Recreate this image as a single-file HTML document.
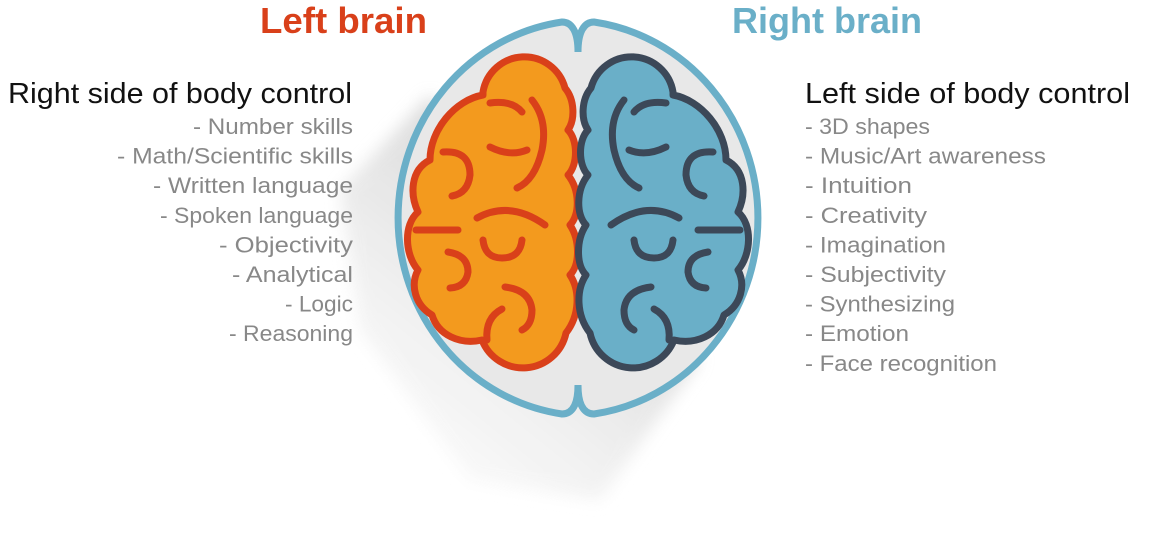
<!DOCTYPE html>
<html><head><meta charset="utf-8"><style>
html,body{margin:0;padding:0;background:#fff;}
svg{display:block;}
text{font-family:"Liberation Sans",sans-serif;}
</style></head><body>
<svg width="1163" height="533" viewBox="0 0 1163 533" xmlns="http://www.w3.org/2000/svg">
<defs>
<linearGradient id="sh" x1="0.6" y1="0.3" x2="0.1" y2="1">
<stop offset="0" stop-color="#d8d8d8"/>
<stop offset="0.5" stop-color="#efefef"/>
<stop offset="1" stop-color="#ffffff"/>
</linearGradient>
<filter id="bl" x="-20%" y="-20%" width="140%" height="140%"><feGaussianBlur stdDeviation="8"/></filter>
<g id="hemi">
<path d="M483,92 A42,42 0 0 1 565,88 C575,100 575,120 568,130 C578,140 578,165 568,175 C580,190 580,215 570,225 C580,240 580,265 570,275 C580,290 580,315 566,333 A44,44 0 0 1 482,340 C460,345 438,335 432,315 C415,305 410,285 418,270 C405,255 403,225 418,212 C410,195 410,170 430,160 C430,130 455,100 483,95 Z"/>
<g fill="none">
<path d="M490,103 Q512,100 522,112"/>
<path d="M443,152 Q470,150 470,175 Q468,193 452,196"/>
<path d="M490,147 Q510,157 527,150"/>
<path d="M532,100 Q548,120 542,150 Q535,180 517,188"/>
<path d="M477,218 Q510,200 545,225"/>
<path d="M483,240 Q485,258 502,258 Q520,258 522,240"/>
<path d="M448,252 Q468,255 468,272 Q466,287 450,288"/>
<path d="M505,287 Q530,290 532,310 Q532,325 522,330"/>
<path d="M502,309 Q485,318 487,340"/>
<path d="M416,230 L458,230"/>
</g>
</g>
</defs>
<polygon points="430,95 340,190 360,330 470,480 600,500 700,360" fill="url(#sh)" filter="url(#bl)" opacity="0.85"/>
<path d="M562,22 A191,198 0 0 0 562,414 C572,414 578,405 578,385 C578,405 584,414 594,414 A191,198 0 0 0 594,22 C584,22 578,32 578,52 C578,32 572,22 562,22 Z" fill="#e8e8e8" stroke="#6aafc8" stroke-width="7"/>
<g fill="#f39a1e" stroke="#d9401a" stroke-width="7" stroke-linecap="round" stroke-linejoin="round"><use href="#hemi"/></g>
<g fill="#6aafc8" stroke="#3c4858" stroke-width="7" stroke-linecap="round" stroke-linejoin="round" transform="translate(1156,0) scale(-1,1)"><use href="#hemi"/></g>

<text x="260" y="33" font-size="36" font-weight="bold" fill="#d9401a" textLength="167" lengthAdjust="spacingAndGlyphs">Left brain</text>
<text x="732" y="33" font-size="36" font-weight="bold" fill="#6aafc8" textLength="190" lengthAdjust="spacingAndGlyphs">Right brain</text>

<text x="8" y="103" font-size="29" fill="#111" textLength="344" lengthAdjust="spacingAndGlyphs">Right side of body control</text>
<g font-size="22" fill="#888">
<text x="193" y="134" textLength="160" lengthAdjust="spacingAndGlyphs">- Number skills</text>
<text x="117" y="163.6" textLength="236" lengthAdjust="spacingAndGlyphs">- Math/Scientific skills</text>
<text x="153" y="193.2" textLength="200" lengthAdjust="spacingAndGlyphs">- Written language</text>
<text x="160" y="222.8" textLength="193" lengthAdjust="spacingAndGlyphs">- Spoken language</text>
<text x="219" y="252.4" textLength="134" lengthAdjust="spacingAndGlyphs">- Objectivity</text>
<text x="232" y="282" textLength="121" lengthAdjust="spacingAndGlyphs">- Analytical</text>
<text x="285" y="311.6" textLength="68" lengthAdjust="spacingAndGlyphs">- Logic</text>
<text x="229" y="341.2" textLength="124" lengthAdjust="spacingAndGlyphs">- Reasoning</text>
</g>

<text x="805" y="103" font-size="29" fill="#111" textLength="325" lengthAdjust="spacingAndGlyphs">Left side of body control</text>
<g font-size="22" fill="#888">
<text x="805" y="134" textLength="125" lengthAdjust="spacingAndGlyphs">- 3D shapes</text>
<text x="805" y="163.6" textLength="241" lengthAdjust="spacingAndGlyphs">- Music/Art awareness</text>
<text x="805" y="193.2" textLength="107" lengthAdjust="spacingAndGlyphs">- Intuition</text>
<text x="805" y="222.8" textLength="122" lengthAdjust="spacingAndGlyphs">- Creativity</text>
<text x="805" y="252.4" textLength="141" lengthAdjust="spacingAndGlyphs">- Imagination</text>
<text x="805" y="282" textLength="141" lengthAdjust="spacingAndGlyphs">- Subjectivity</text>
<text x="805" y="311.6" textLength="150" lengthAdjust="spacingAndGlyphs">- Synthesizing</text>
<text x="805" y="341.2" textLength="104" lengthAdjust="spacingAndGlyphs">- Emotion</text>
<text x="805" y="370.8" textLength="192" lengthAdjust="spacingAndGlyphs">- Face recognition</text>
</g>
</svg>
</body></html>
